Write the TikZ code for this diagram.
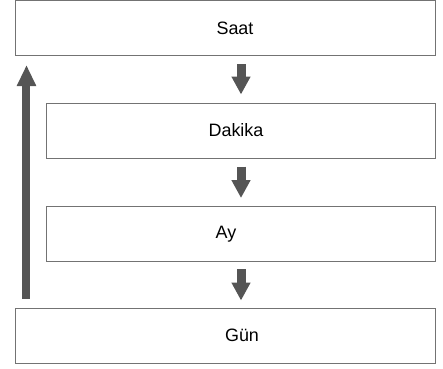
\documentclass[tikz,border=0pt]{standalone}
\usepackage{fontspec}
\setmainfont{Liberation Sans}
\usetikzlibrary{arrows.meta}

\definecolor{boxline}{RGB}{115,115,115}
\definecolor{arrowgray}{RGB}{85,85,85}

\begin{document}
\begin{tikzpicture}[x=1bp, y=-1bp,
  unit/.style={draw=boxline, line width=1bp, rectangle, minimum height=55bp,
    inner sep=0pt, font=\fontsize{18}{21}\selectfont},
  fatarrow/.style={draw=arrowgray, line width=9bp,
    arrows={-{Triangle[width=18bp, length=18bp]}}}]
\useasboundingbox (0,0) rectangle (443,368);

\node[unit, minimum width=419bp] at (225.5,28) (saat) {\hspace*{19bp}Saat};
\node[unit, minimum width=388bp] at (241,130.5) (dakika) {Dakika\hspace*{10bp}};
\node[unit, minimum width=388bp] at (241,234) (ay) {Ay\hspace*{30bp}};
\node[unit, minimum width=419bp] at (225.5,335.5) (gun) {\hspace*{33bp}Gün};

%downward steps
\draw[fatarrow, shorten <=8bp, shorten >=8bp] (saat.south -| dakika) -- (dakika);
\draw[fatarrow, shorten <=8bp, shorten >=8bp] (dakika) -- (ay);
\draw[fatarrow, shorten <=7bp, shorten >=7bp] (ay.south) -- (gun.north -| ay);

%back up to the top
\draw[fatarrow, line width=8bp, arrows={-{Triangle[width=18bp, length=21bp]}},
  shorten <=9bp, shorten >=9bp]
  ([xshift=11bp]gun.north west) -- ([xshift=11bp]saat.south west);

\end{tikzpicture}
\end{document}
